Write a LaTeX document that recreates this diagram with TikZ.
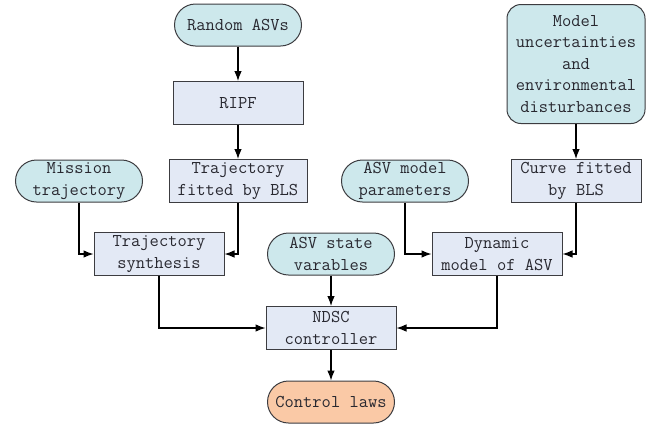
\documentclass[tikz,border=0pt]{standalone}
\usepackage{fontspec}
\setmonofont{Latin Modern Mono}
\usetikzlibrary{arrows.meta,shapes.misc}

\definecolor{inblue}{RGB}{205,232,236}
\definecolor{boxblue}{RGB}{227,233,245}
\definecolor{outorange}{RGB}{250,201,166}
\definecolor{edgegray}{RGB}{60,60,64}
\definecolor{inkgray}{RGB}{40,40,48}

\tikzset{
  txt/.style={font=\ttfamily\fontsize{18}{21.5}\selectfont, text=inkgray,
    align=center, inner sep=1pt},
  proc/.style={txt, draw=edgegray, line width=1pt, fill=boxblue,
    minimum width=130pt, minimum height=43pt},
  source/.style={txt, draw=edgegray, line width=1pt, fill=inblue,
    rounded rectangle, minimum width=129pt, minimum height=42pt},
  result/.style={source, fill=outorange},
  link/.style={line width=1.1pt, -{Latex[length=10pt,width=7.5pt]}}
}

\begin{document}
\begin{tikzpicture}[x=1pt,y=-1pt]
  \useasboundingbox (0,0) rectangle (656,424);

  \node[source] (rand)  at (238,25)  {Random ASVs};
  \node[proc]   (ripf)  at (238,103) {RIPF};
  \node[proc, minimum width=138pt] (fitted) at (238,181) {Trajectory\\fitted by BLS};
  \node[source] (mission) at (79,181) {Mission\\trajectory};
  \node[proc]   (synth) at (159,254) {Trajectory\\synthesis};
  \node[source] (state) at (331,254) {ASV state\\varables};
  \node[proc]   (ndsc)  at (331,328) {NDSC\\controller};
  \node[result] (laws)  at (331,402) {Control laws};
  \node[source] (param) at (405,181) {ASV model\\parameters};
  \node[txt, draw=edgegray, line width=1pt, fill=inblue, rounded corners=14pt,
        minimum width=138pt, minimum height=119pt]
                (uncert) at (576,64) {Model\\uncertainties\\and\\environmental\\disturbances};
  \node[proc]   (curve) at (576,181) {Curve fitted\\by BLS};
  \node[proc]   (dyn)   at (497,254) {Dynamic\\model of ASV};

  \draw[link] (rand) -- (ripf);
  \draw[link] (ripf) -- (fitted);
  \draw[link] (uncert) -- (curve);
  \draw[link] (mission) |- (synth);
  \draw[link] (fitted) |- (synth);
  \draw[link] (param) |- (dyn);
  \draw[link] (curve) |- (dyn);
  \draw[link] (state) -- (ndsc);
  \draw[link] (synth) |- (ndsc);
  \draw[link] (dyn) |- (ndsc);
  \draw[link] (ndsc) -- (laws);
\end{tikzpicture}
\end{document}
